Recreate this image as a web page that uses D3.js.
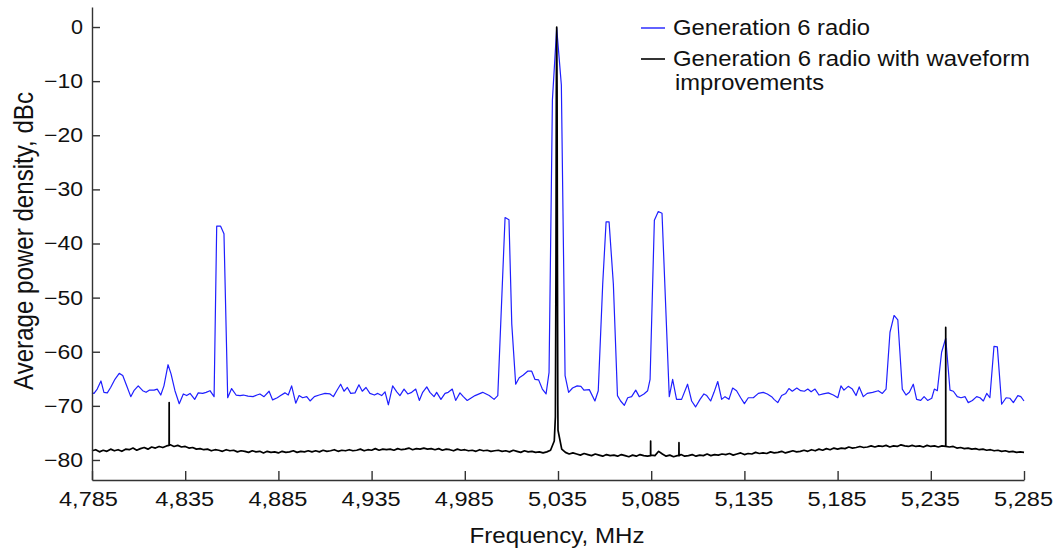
<!DOCTYPE html>
<html>
<head>
<meta charset="utf-8">
<script src="https://cdn.jsdelivr.net/npm/d3@7"></script>
<style>
  body { margin: 0; background: #fff; }
  svg { display: block; font-family: "Liberation Sans", Arial, sans-serif; }
</style>
</head>
<body>
<svg id="chart" width="1057" height="550"></svg>
<script>
// x ticks in MHz, y ticks in dBc
const xTicks = [4785, 4835, 4885, 4935, 4985, 5035, 5085, 5135, 5185, 5235, 5285]
const yTicks = [0, -10, -20, -30, -40, -50, -60, -70, -80]

const seriesNames = ['Generation 6 radio', 'Generation 6 radio with waveform', 'improvements']

// Generation 6 radio (blue)
const blueFreq = [
  4785, 4786.1, 4787.8, 4789.8, 4791.4, 4793.2, 4795.0, 4797.3, 4799.6, 4801.5,
  4803.6, 4805.8, 4807.5, 4809.8, 4812.2, 4814.0, 4815.7, 4818.3, 4820.0, 4821.9,
  4823.6, 4825.8, 4827.4, 4829.5, 4831.8, 4834.0, 4835.8, 4837.6, 4840.1, 4842.0,
  4844.4, 4846.2, 4848.3, 4850.5, 4851.9, 4854.0, 4855.8, 4857.8, 4859.9, 4862.3,
  4864.4, 4866.2, 4868.7, 4871.4, 4873.5, 4875.1, 4877.3, 4880.0, 4881.9, 4884.4,
  4886.2, 4888.5, 4890.3, 4892.1, 4894.3, 4896.1, 4898.0, 4900.2, 4902.0, 4904.3,
  4906.9, 4910.0, 4912.7, 4914.5, 4916.3, 4918.4, 4920.2, 4922.0, 4923.8, 4926.1,
  4928.2, 4930.0, 4932.0, 4934.1, 4936.5, 4938.3, 4940.4, 4942.2, 4944.0, 4946.3,
  4948.5, 4950.2, 4952.4, 4954.4, 4956.5, 4958.7, 4960.6, 4962.4, 4964.6, 4966.3,
  4968.5, 4969.9, 4972.2, 4974.4, 4976.1, 4978.3, 4980.1, 4982.4, 4984.2, 4986.3,
  4990.5, 4994.6, 4998.1, 5000.7, 5002.7, 5006.6, 5008.7, 5010.2, 5012.3, 5014.2,
  5016.4, 5018.7, 5020.9, 5022.6, 5024.6, 5026.6, 5028.6, 5030.2, 5032.0, 5034.3,
  5036.8, 5038.8, 5040.7, 5042.8, 5045.3, 5047.3, 5048.9, 5051.8, 5054.8, 5056.6,
  5059.0, 5060.8, 5062.4, 5064.7, 5066.9, 5068.6, 5070.6, 5072.4, 5074.5, 5076.7,
  5078.6, 5081.1, 5083.1, 5084.4, 5086.7, 5088.8, 5090.8, 5094.7, 5096.5, 5098.6,
  5101.3, 5104.5, 5106.7, 5108.8, 5111.2, 5113.3, 5114.8, 5116.9, 5118.7, 5120.7,
  5122.8, 5124.6, 5126.7, 5128.7, 5130.8, 5133.0, 5135.0, 5137.1, 5139.8, 5142.5,
  5145.1, 5147.3, 5149.6, 5150.9, 5152.9, 5155.0, 5157.2, 5158.9, 5160.7, 5163.1,
  5165.2, 5167.2, 5169.0, 5170.8, 5172.9, 5175.0, 5177.3, 5180.0, 5182.7, 5185.1,
  5186.8, 5188.4, 5190.7, 5192.9, 5194.9, 5196.6, 5198.8, 5200.9, 5203.8, 5206.8,
  5209.0, 5211.0, 5213.1, 5215.3, 5217.3, 5219.7, 5221.7, 5223.5, 5225.6, 5227.4,
  5229.6, 5231.4, 5233.3, 5235.5, 5236.9, 5238.5, 5240.8, 5243.0, 5245.3, 5247.1,
  5249.2, 5251.2, 5253.4, 5255.1, 5257.3, 5259.6, 5261.4, 5263.2, 5265.0, 5266.7,
  5268.9, 5270.7, 5273.0, 5275.4, 5277.5, 5279.3, 5281.7, 5283.3, 5285.0,
]
const blueDb = [
  -67.6, -67.7, -66.9, -65.4, -67.5, -67.6, -66.6, -65.1, -64.0, -64.4,
  -66.3, -68.3, -67.2, -66.3, -67.2, -67.5, -67.1, -67.1, -66.9, -68.0,
  -66.3, -62.4, -64.1, -67.2, -69.6, -67.8, -68.1, -67.7, -68.8, -67.6,
  -67.7, -67.5, -67.2, -68.3, -36.8, -36.8, -38.2, -68.5, -66.8, -68.0,
  -68.1, -68.0, -68.2, -68.3, -68.0, -67.8, -68.3, -67.3, -68.9, -68.5,
  -68.1, -67.6, -68.0, -66.3, -69.5, -68.1, -68.5, -68.3, -69.1, -68.3,
  -68.0, -67.7, -67.8, -68.3, -67.2, -66.0, -67.3, -66.6, -67.7, -67.6,
  -66.1, -67.3, -66.6, -67.7, -68.0, -67.7, -68.1, -67.4, -69.8, -66.3,
  -67.4, -68.1, -66.9, -67.8, -67.5, -66.9, -69.0, -67.5, -66.5, -67.5,
  -68.3, -67.5, -68.8, -67.7, -67.5, -66.9, -69.0, -67.6, -68.3, -69.0,
  -68.1, -67.5, -68.1, -68.8, -68.1, -35.2, -35.6, -54.9, -66.0, -64.8,
  -64.3, -63.6, -63.6, -65.1, -65.2, -66.9, -67.8, -63.8, -13.5, -0.2,
  -10.7, -64.4, -67.5, -66.7, -66.3, -66.4, -67.1, -67.0, -69.1, -67.2,
  -47.4, -36.0, -36.0, -47.5, -68.1, -69.1, -69.9, -68.5, -68.3, -67.1,
  -68.3, -67.8, -67.2, -65.1, -35.7, -34.1, -34.4, -68.3, -65.1, -68.8,
  -68.8, -66.0, -69.1, -70.2, -68.8, -67.8, -68.1, -69.1, -67.5, -65.5,
  -68.8, -68.3, -68.8, -66.7, -67.2, -68.5, -69.6, -68.5, -68.5, -67.7,
  -67.5, -67.8, -68.3, -68.8, -69.4, -68.1, -67.7, -66.8, -67.3, -66.7,
  -67.2, -67.3, -66.9, -67.4, -66.9, -68.0, -67.8, -67.6, -68.0, -68.5,
  -66.3, -67.1, -66.4, -66.9, -68.1, -66.5, -68.3, -67.7, -67.5, -67.2,
  -67.7, -66.9, -56.4, -53.3, -54.1, -66.9, -68.0, -67.5, -66.0, -68.8,
  -69.0, -68.3, -69.0, -68.6, -66.9, -67.2, -60.1, -57.5, -67.1, -67.3,
  -68.3, -68.5, -68.3, -69.4, -69.0, -68.3, -68.5, -69.1, -67.7, -68.5,
  -59.0, -59.1, -69.7, -68.5, -68.6, -69.4, -68.1, -68.3, -69.1,
]

// Generation 6 radio with waveform improvements (black), sampled every 2 MHz from 4785
const blackStart = 4785
const blackStep = 2
const blackDb = [
  -78.3, -78.1, -78.5, -78.2, -78.4, -78.0, -78.3, -78.1, -78.4, -78.0,
  -78.1, -77.8, -78.2, -77.9, -77.7, -78.0, -77.6, -77.8, -77.5, -77.7,
  -77.4, -77.2, -77.5, -77.3, -77.6, -77.5, -77.8, -77.7, -78.0, -77.9,
  -78.1, -78.0, -78.3, -78.1, -78.2, -78.4, -78.1, -78.3, -78.2, -78.5,
  -78.3, -78.4, -78.6, -78.3, -78.5, -78.4, -78.7, -78.4, -78.6, -78.5,
  -78.7, -78.4, -78.6, -78.5, -78.3, -78.6, -78.4, -78.5, -78.3, -78.5,
  -78.3, -78.5, -78.2, -78.4, -78.3, -78.1, -78.4, -78.2, -78.3, -78.1,
  -78.3, -78.2, -78.0, -78.3, -78.1, -78.2, -77.9, -78.2, -78.0, -78.1,
  -78.0, -78.2, -77.9, -78.1, -78.0, -77.8, -78.1, -77.9, -78.0, -77.8,
  -78.0, -77.9, -78.1, -77.9, -78.2, -78.0, -78.1, -78.3, -78.0, -78.2,
  -78.1, -78.3, -78.2, -78.4, -78.1, -78.3, -78.2, -78.4, -78.3, -78.2,
  -78.4, -78.3, -78.5, -78.2, -78.4, -78.6, -78.3, -78.5, -78.4, -78.6,
  -78.5, -78.7, -78.5, -78.2, -76.5, -74.5, -78.0, -78.6, -78.9, -78.7,
  -78.9, -79.1, -78.8, -79.0, -79.2, -78.9, -79.1, -79.3, -79.0, -79.2,
  -79.1, -79.3, -79.0, -79.2, -79.4, -79.1, -79.3, -79.0, -79.2, -79.3,
  -79.1, -79.2, -78.4, -78.9, -79.3, -79.1, -79.4, -79.2, -79.0, -79.3,
  -79.2, -79.0, -79.3, -79.1, -79.2, -78.9, -79.2, -79.0, -79.1, -78.9,
  -79.0, -78.8, -79.1, -78.9, -78.7, -79.0, -78.8, -78.9, -78.6, -78.8,
  -78.7, -78.8, -78.5, -78.7, -78.6, -78.4, -78.7, -78.5, -78.3, -78.5,
  -78.4, -78.2, -78.4, -78.1, -78.3, -78.0, -78.2, -77.9, -78.1, -77.8,
  -78.0, -77.8, -77.9, -77.6, -77.8, -77.7, -77.5, -77.7, -77.6, -77.4,
  -77.6, -77.4, -77.5, -77.3, -77.6, -77.4, -77.5, -77.2, -77.4, -77.5,
  -77.3, -77.5, -77.4, -77.6, -77.3, -77.5, -77.4, -77.6, -77.4, -77.5,
  -77.6, -77.5, -77.8, -77.7, -77.9, -77.8, -78.0, -77.9, -78.1, -78.0,
  -78.2, -78.1, -78.3, -78.2, -78.4, -78.3, -78.5, -78.4, -78.6, -78.5,
  -78.6,
]
// narrow spurs: [MHz, floor dBc, top dBc]
const blackSpikes = [
  [4826.4, -77.3, -69.4],
  [5084.7, -79.2, -76.5],
  [5099.9, -79.2, -76.8],
  [5243.0, -77.5, -55.5],
]
// the carrier itself: [MHz, dBc]
const blackCarrier = [
  [5033.6, -72], [5033.9, -45], [5034.1, -12], [5034.3, 0],
  [5034.5, -12], [5034.7, -45], [5034.9, -70],
]

const svg = d3.select('#chart')

const x = d3.scaleLinear().domain([4785, 5285]).range([92, 1024])
const y = d3.scaleLinear().domain([-83.7, 3.7]).range([480, 7])

const bluePts = blueFreq.map((f, i) => [f, blueDb[i]])

const blackPts = blackDb.map((v, i) => [blackStart + i * blackStep, v])
blackSpikes.forEach(([f, lo, hi]) => {
  blackPts.push([f - 0.05, lo], [f, hi], [f + 0.05, lo])
})
blackCarrier.forEach((p) => blackPts.push(p))
blackPts.sort((a, b) => a[0] - b[0])

const line = d3
  .line()
  .x((d) => x(d[0]))
  .y((d) => y(d[1]))

// stretch a text to a given width, the original art is a bit wide
function fit(sel, width) {
  sel.attr('textLength', width).attr('lengthAdjust', 'spacingAndGlyphs')
}

svg
  .append('path')
  .datum(bluePts)
  .attr('fill', 'none')
  .attr('stroke', '#1f1fff')
  .attr('stroke-width', 1.2)
  .attr('stroke-linejoin', 'round')
  .attr('d', line)

svg
  .append('path')
  .datum(blackPts)
  .attr('fill', 'none')
  .attr('stroke', '#000')
  .attr('stroke-width', 1.7)
  .attr('stroke-linejoin', 'round')
  .attr('d', line)

// axes
const gx = svg
  .append('g')
  .attr('transform', 'translate(0,480)')
  .call(
    d3
      .axisBottom(x)
      .tickValues(xTicks)
      .tickSize(-9)
      .tickSizeOuter(0)
      .tickPadding(12)
      .tickFormat(d3.format(',')),
  )
gx.selectAll('.tick text')
  .attr('font-size', 19.5)
  .attr('font-family', '"Liberation Sans", Arial, sans-serif')
  .attr('fill', '#111')
  .attr('dx', (d) => (d === 4785 ? -4 : -1))
  .call(fit, 59)

const gy = svg
  .append('g')
  .attr('transform', 'translate(92,0)')
  .call(
    d3
      .axisLeft(y)
      .tickValues(yTicks)
      .tickSize(-8)
      .tickSizeOuter(0)
      .tickPadding(9)
      .tickFormat(d3.format('d')),
  )
gy.selectAll('.tick text')
  .attr('font-size', 20)
  .attr('font-family', '"Liberation Sans", Arial, sans-serif')
  .attr('fill', '#111')
  .each(function (d) {
    d3.select(this).call(fit, d === 0 ? 12 : 39)
  })

svg.selectAll('.domain, .tick line').attr('stroke', '#333').attr('stroke-width', 1.4)

// axis titles
svg
  .append('text')
  .attr('x', 557)
  .attr('y', 542.5)
  .attr('text-anchor', 'middle')
  .attr('font-size', 22)
  .attr('fill', '#111')
  .text('Frequency, MHz')
  .call(fit, 175)

svg
  .append('g')
  .attr('transform', 'translate(33,241) scale(1.2,1) rotate(-90)')
  .append('text')
  .attr('text-anchor', 'middle')
  .attr('font-size', 23)
  .attr('fill', '#111')
  .text('Average power density, dBc')
  .call(fit, 298)

// legend
const legend = svg.append('g')
legend
  .append('line')
  .attr('x1', 641).attr('x2', 665).attr('y1', 28).attr('y2', 28)
  .attr('stroke', '#1f1fff').attr('stroke-width', 1.4)
legend
  .append('line')
  .attr('x1', 641).attr('x2', 665).attr('y1', 59).attr('y2', 59)
  .attr('stroke', '#000').attr('stroke-width', 1.6)
legend
  .append('text')
  .attr('x', 673).attr('y', 34.5)
  .attr('font-size', 22).attr('fill', '#111')
  .text(seriesNames[0])
  .call(fit, 197)
legend
  .append('text')
  .attr('x', 673).attr('y', 65.5)
  .attr('font-size', 22).attr('fill', '#111')
  .text(seriesNames[1])
  .call(fit, 357)
legend
  .append('text')
  .attr('x', 675).attr('y', 90)
  .attr('font-size', 22).attr('fill', '#111')
  .text(seriesNames[2])
  .call(fit, 149)
</script>
</body>
</html>
